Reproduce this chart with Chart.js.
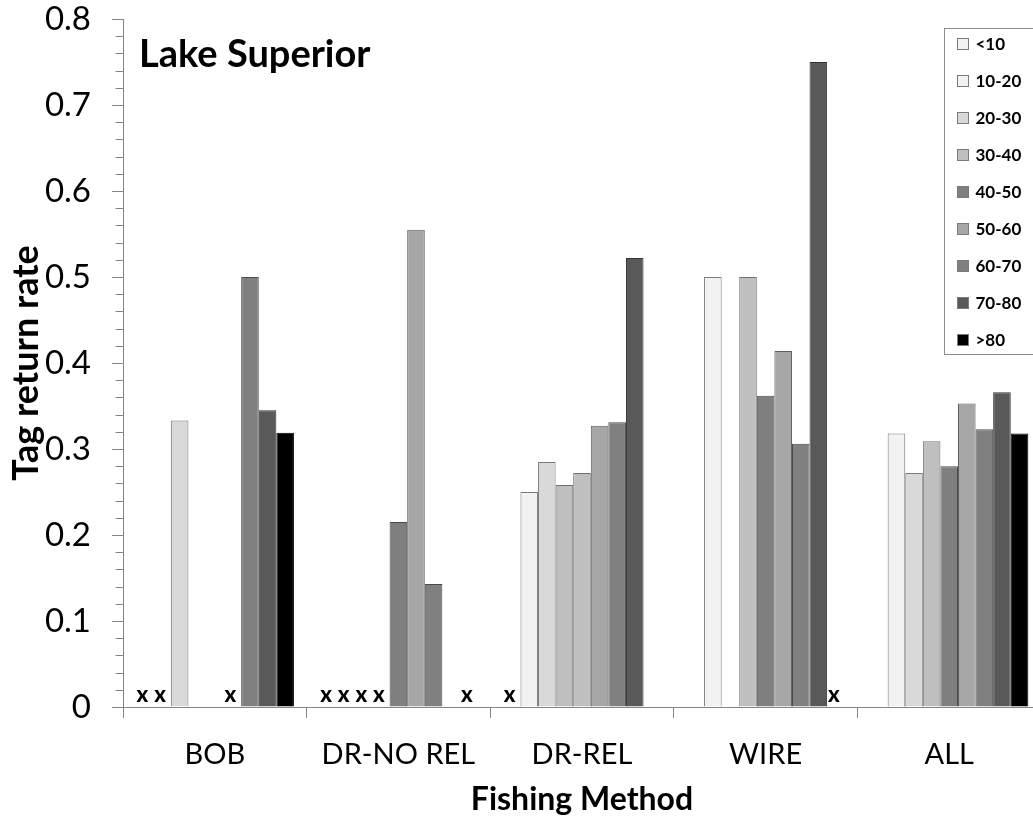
<!DOCTYPE html>
<html>
<head>
<meta charset="utf-8">
<title>Lake Superior – tag return rate by fishing method</title>
<script src="https://cdn.jsdelivr.net/npm/chart.js@4.4.1/dist/chart.umd.min.js"></script>
<style>
  html, body { margin: 0; padding: 0; background: #fff; overflow: hidden; width: 1033px; height: 820px; }
  #wrap { width: 1042px; height: 820px; }
</style>
</head>
<body>
<div id="wrap"><canvas id="chart" width="1042" height="820"></canvas></div>
<script>
// Fishing methods (x categories) and fish size classes (series)
const methods = ['BOB', 'DR-NO REL', 'DR-REL', 'WIRE', 'ALL'];
const sizeClasses = ['<10', '10-20', '20-30', '30-40', '40-50', '50-60', '60-70', '70-80', '>80'];

// Tag return rate per size class, one value per method.
// null = no bar, 0 = no returns (marked with an "x" on the axis)
const rateLt10  = [0,     0,     0,     null,  null ];
const rate10_20 = [0,     0,     0.250, 0.500, 0.318];
const rate20_30 = [0.333, 0,     0.285, null,  0.272];
const rate30_40 = [null,  0,     0.258, 0.500, 0.309];
const rate40_50 = [null,  0.215, 0.272, 0.362, 0.280];
const rate50_60 = [0,     0.555, 0.327, 0.414, 0.353];
const rate60_70 = [0.500, 0.143, 0.331, 0.306, 0.323];
const rate70_80 = [0.345, null,  0.522, 0.750, 0.366];
const rateGt80  = [0.319, 0,     null,  0,     0.318];

// Y axis range and tick step
const yMin = 0, yMax = 0.8, yStep = 0.1, yMinorStep = 0.02;

const seriesValues = [rateLt10, rate10_20, rate20_30, rate30_40, rate40_50, rate50_60, rate60_70, rate70_80, rateGt80];
const fills   = ['#f2f2f2', '#f2f2f2', '#d9d9d9', '#bfbfbf', '#7f7f7f', '#a6a6a6', '#808080', '#595959', '#000000'];
const borders = ['#7a7a7a', '#7a7a7a', '#7a7a7a', '#6e6e6e', '#4a4a4a', '#5e5e5e', '#4a4a4a', '#333333', '#000000'];

const FONT = 'Lato, "Open Sans", "DejaVu Sans", sans-serif';
const AXIS_GREY = '#868686';

const datasets = seriesValues.map((vals, i) => ({
  label: sizeClasses[i],
  data: vals,
  swatch: fills[i],
  // the 40-50 bar in DR-REL is filled lighter than the rest of its series
  backgroundColor: i === 4 ? methods.map(m => m === 'DR-REL' ? '#bfbfbf' : fills[i]) : fills[i],
  borderColor: i === 4 ? methods.map(m => m === 'DR-REL' ? '#6e6e6e' : borders[i]) : borders[i],
  borderWidth: ctx => (ctx.raw === 0 || ctx.raw === null) ? 0 : 1,
  borderSkipped: 'start',
  categoryPercentage: 0.862,
  barPercentage: 1.0
}));

// Short minor tick marks on the value axis
const minorTicks = {
  id: 'minorTicks',
  afterDraw(chart) {
    const y = chart.scales.y;
    const ctx = chart.ctx;
    const x = Math.round(y.right) + 0.5;
    ctx.save();
    ctx.strokeStyle = AXIS_GREY;
    ctx.lineWidth = 1;
    const n = Math.round((yMax - yMin) / yMinorStep);
    for (let k = 0; k <= n; k++) {
      if (k % 5 === 0) continue;
      const py = Math.round(y.getPixelForValue(yMin + k * yMinorStep)) + 0.5;
      ctx.beginPath();
      ctx.moveTo(x - 8, py);
      ctx.lineTo(x, py);
      ctx.stroke();
    }
    ctx.restore();
  }
};

// "x" drawn on the baseline where a size class had no returns
const zeroMarks = {
  id: 'zeroMarks',
  afterDatasetsDraw(chart) {
    const ctx = chart.ctx;
    const base = chart.scales.y.getPixelForValue(0);
    ctx.save();
    ctx.font = '900 22px ' + FONT;
    ctx.fillStyle = '#000';
    ctx.textAlign = 'center';
    ctx.textBaseline = 'alphabetic';
    chart.data.datasets.forEach((ds, i) => {
      const meta = chart.getDatasetMeta(i);
      ds.data.forEach((v, j) => {
        if (v === 0) ctx.fillText('x', meta.data[j].x - 2, base - 5);
      });
    });
    ctx.restore();
  }
};

// Panel heading inside the plot area
const panelTitle = {
  id: 'panelTitle',
  afterDraw(chart) {
    const { ctx, chartArea } = chart;
    ctx.save();
    ctx.font = 'bold 38px ' + FONT;
    ctx.fillStyle = '#000';
    ctx.textBaseline = 'alphabetic';
    ctx.fillText('Lake Superior', chartArea.left + 16, chartArea.top + 48);
    ctx.restore();
  }
};

// Boxed legend in the upper right of the plot area
const boxLegend = {
  id: 'boxLegend',
  afterDraw(chart) {
    const { ctx, chartArea } = chart;
    const x0 = Math.round(chartArea.right - 97) + 0.5;
    const y0 = Math.round(chartArea.top + 9) + 0.5;
    const rowH = 37;
    const n = chart.data.datasets.length;
    const h = 15 + rowH * (n - 1) + 15;
    ctx.save();
    ctx.fillStyle = '#fff';
    ctx.fillRect(x0, y0, 120, h);
    ctx.strokeStyle = '#8c8c8c';
    ctx.lineWidth = 1;
    ctx.strokeRect(x0, y0, 120, h);
    ctx.font = 'bold 17px ' + FONT;
    ctx.textBaseline = 'middle';
    chart.data.datasets.forEach((ds, i) => {
      const cy = Math.round(y0 + 15 + i * rowH);
      ctx.fillStyle = ds.swatch;
      ctx.fillRect(x0 + 13, cy - 5.5, 11, 11);
      ctx.strokeStyle = '#7a7a7a';
      ctx.strokeRect(x0 + 13, cy - 5.5, 11, 11);
      ctx.fillStyle = '#000';
      ctx.fillText(ds.label, x0 + 31, cy + 1);
    });
    ctx.restore();
  }
};

new Chart(document.getElementById('chart'), {
  type: 'bar',
  data: { labels: methods, datasets },
  plugins: [minorTicks, zeroMarks, panelTitle, boxLegend],
  options: {
    responsive: false,
    animation: false,
    devicePixelRatio: 1,
    layout: { padding: { top: 0, right: 1, left: 0, bottom: 0 } },
    plugins: {
      legend: { display: false },
      tooltip: { enabled: false },
      title: { display: false }
    },
    scales: {
      x: {
        offset: true,
        afterFit: s => { s.height = 113; },
        grid: { offset: true, drawOnChartArea: false, drawTicks: true, tickLength: 11, color: AXIS_GREY },
        border: { display: true, color: AXIS_GREY, width: 1 },
        ticks: { color: '#000', font: { family: FONT, size: 29 }, padding: 19, maxRotation: 0, autoSkip: false },
        title: {
          display: true, text: 'Fishing Method', color: '#000',
          font: { family: FONT, size: 32, weight: 'bold' },
          padding: { top: 0, bottom: 1 }
        }
      },
      y: {
        min: yMin, max: yMax,
        afterFit: s => { s.width = 123; s.paddingTop = 19; s.paddingBottom = 0; },
        grid: { drawOnChartArea: false, drawTicks: true, tickLength: 11, color: AXIS_GREY },
        border: { display: true, color: AXIS_GREY, width: 1 },
        ticks: { stepSize: yStep, color: '#000', font: { family: FONT, size: 33 }, padding: 21 },
        title: {
          display: true, text: 'Tag return rate', color: '#000',
          font: { family: FONT, size: 36, weight: 'bold' },
          padding: { top: 5, bottom: 0 }
        }
      }
    }
  }
});
</script>
</body>
</html>
